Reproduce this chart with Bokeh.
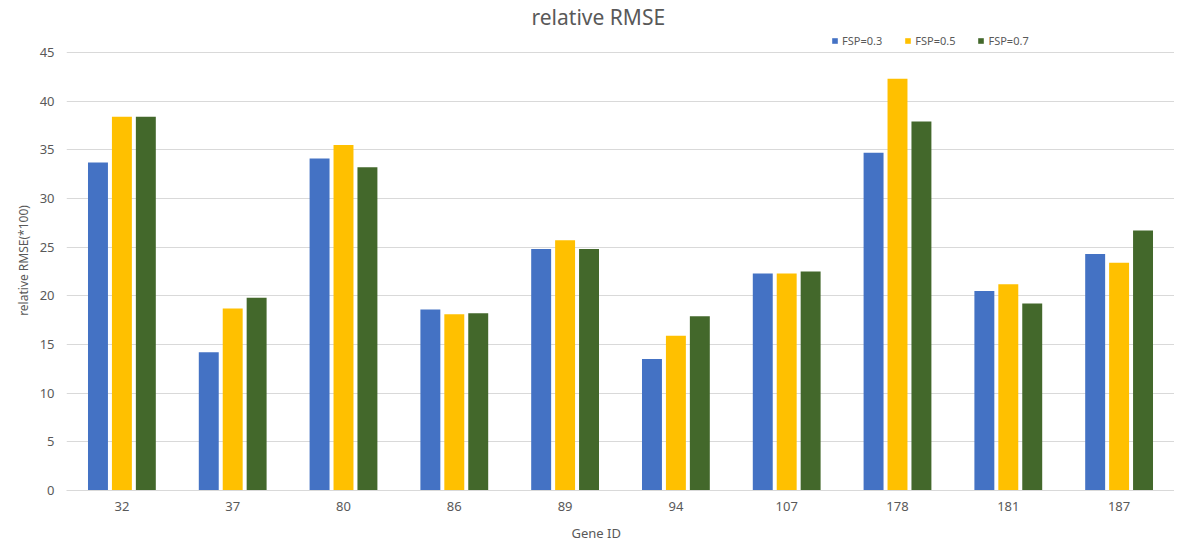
from bokeh.plotting import figure
from bokeh.models import FactorRange, Range1d, FixedTicker, Legend, LegendItem, Title
from bokeh.transform import dodge
from bokeh.embed import file_html
from bokeh.resources import INLINE
from bokeh.models import ColumnDataSource

genes = ["32", "37", "80", "86", "89", "94", "107", "178", "181", "187"]
fsp_03 = [33.7, 14.2, 34.1, 18.6, 24.8, 13.5, 22.3, 34.7, 20.5, 24.3]
fsp_05 = [38.4, 18.7, 35.5, 18.1, 25.7, 15.9, 22.3, 42.3, 21.2, 23.4]
fsp_07 = [38.4, 19.8, 33.2, 18.2, 24.8, 17.9, 22.5, 37.9, 19.2, 26.7]
series_names = ["FSP=0.3", "FSP=0.5", "FSP=0.7"]
y_ticks = [0, 5, 10, 15, 20, 25, 30, 35, 40, 45]

colors = ["#4472C4", "#FFC000", "#43682B"]
FONT = "Noto Sans"
GREY = "#595959"

src = ColumnDataSource(dict(gene=genes, a=fsp_03, b=fsp_05, c=fsp_07))

p = figure(x_range=FactorRange(*genes), y_range=Range1d(0, 47.26),
           frame_width=1108, frame_height=460,
           min_border_left=66, min_border_right=0, min_border_top=30, min_border_bottom=52,
           output_backend="svg", toolbar_location=None, background_fill_color="white",
           border_fill_color="white", outline_line_color=None)

p.title.text = "relative RMSE"
p.title.align = "left"
p.title.text_font = FONT
p.title.text_font_size = "21px"
p.title.text_font_style = "normal"
p.title.text_color = GREY
p.title.standoff = 0
p.title.offset = 465

renderers = []
for col, off, colr in zip(["a", "b", "c"], [-0.216, 0.0, 0.216], colors):
    r = p.vbar(x=dodge("gene", off, range=p.x_range), top=col, width=0.18, source=src,
               fill_color=colr, line_color=None)
    renderers.append(r)

legend = Legend(items=[LegendItem(label=n, renderers=[r]) for n, r in zip(series_names, renderers)],
                orientation="horizontal", location=(765, 442),
                label_text_font=FONT, label_text_font_size="11px", label_text_color=GREY,
                glyph_width=7, glyph_height=7, label_standoff=4, spacing=22,
                padding=0, margin=0, border_line_color=None, background_fill_alpha=0,
                label_height=14)
p.add_layout(legend, "center")

p.xgrid.grid_line_color = None
p.ygrid.grid_line_color = "#D9D9D9"
p.ygrid.grid_line_width = 1
p.yaxis.ticker = FixedTicker(ticks=y_ticks)
p.yaxis.axis_line_color = None
p.yaxis.major_tick_line_color = None
p.yaxis.minor_tick_line_color = None
p.yaxis.major_label_text_font = FONT
p.yaxis.major_label_text_font_size = "13px"
p.yaxis.major_label_text_color = GREY
p.yaxis.major_label_standoff = 6
p.yaxis.axis_label = "relative RMSE(*100)"
p.yaxis.axis_label_text_font = FONT
p.yaxis.axis_label_text_font_size = "12px"
p.yaxis.axis_label_text_font_style = "normal"
p.yaxis.axis_label_text_color = GREY
p.yaxis.axis_label_standoff = 5

p.xaxis.axis_line_color = "#D9D9D9"
p.xaxis.major_tick_line_color = None
p.xaxis.minor_tick_line_color = None
p.xaxis.major_label_text_font = FONT
p.xaxis.major_label_text_font_size = "13px"
p.xaxis.major_label_text_color = GREY
p.xaxis.major_label_standoff = 5

xlabel = Title(text="Gene ID", align="left", offset=505, text_font=FONT,
               text_font_size="13px", text_font_style="normal", text_color=GREY, standoff=16)
p.add_layout(xlabel, "below")

open("out.html", "w").write(file_html(p, INLINE))
